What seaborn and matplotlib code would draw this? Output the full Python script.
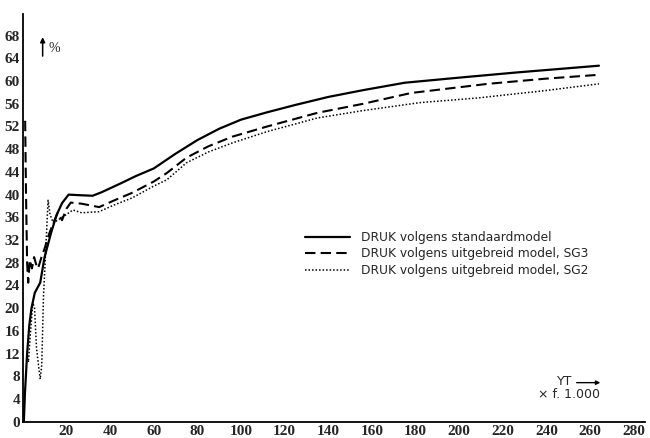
import numpy as np
import pandas as pd
import seaborn as sns
import matplotlib.pyplot as plt

# DRUK volgens standaardmodel
std_x = [0.5, 1, 2, 3, 4, 5.5, 8, 10, 13, 15.5, 18, 21, 26, 32, 36, 45, 52,
         60, 70, 80, 90, 100, 112, 125, 140, 156, 175, 200, 226, 245, 264]
std_y = [0, 5, 12, 17, 20, 22.7, 24.5, 29, 33.3, 36.4, 38.5, 40, 39.9, 39.8, 40.4, 42, 43.3,
         44.6, 47.2, 49.6, 51.6, 53.2, 54.5, 55.8, 57.2, 58.4, 59.7, 60.6, 61.5, 62.1, 62.7]

# DRUK volgens uitgebreid model, SG3
sg3_x = [1.1, 1.5, 2.0, 2.5, 3.2, 4.2, 5.2, 6.3, 7.0, 8.6, 10, 12, 14, 16, 18, 20, 22,
         27, 35, 42, 50, 60, 66, 75, 85, 96, 112, 135, 156, 178, 213, 239, 264]
sg3_y = [53, 40, 28, 24.5, 28.5, 27, 29, 27.5, 27, 29, 30.5, 33, 35, 36.8, 35.5, 37.5, 38.6,
         38.4, 37.8, 39, 40.3, 42.3, 43.8, 46.5, 48.5, 50.2, 52, 54.4, 56, 57.9, 59.5, 60.4, 61.1]

# DRUK volgens uitgebreid model, SG2
sg2_x = [1.8, 2.6, 3.4, 4.6, 5.4, 6.3, 7.2, 8.0, 8.7, 9.5, 10.5, 11.6, 12.5, 14, 16, 18, 20,
         23, 27, 35, 42, 50, 60, 66, 75, 85, 96, 112, 135, 156, 182, 208, 239, 264]
sg2_y = [12, 10.5, 15, 21, 20, 13, 10, 7.5, 10, 22, 30, 39, 36.5, 35, 35.5, 36, 36.5,
         37.3, 36.8, 37, 38.2, 39.4, 41.5, 42.6, 45.6, 47.5, 49.1, 51.1, 53.5, 54.8, 56.2, 57, 58.3, 59.5]

labels = ["DRUK volgens standaardmodel",
          "DRUK volgens uitgebreid model, SG3",
          "DRUK volgens uitgebreid model, SG2"]
y_ticks = list(range(0, 69, 4))
x_ticks = list(range(20, 281, 20))

sns.set_style("white")
plt.rcParams['font.family'] = ['DejaVu Sans']

fig = plt.figure(figsize=(6.5, 4.38), dpi=100)
ax = fig.add_axes([0.035, 0.037, 0.957, 0.931])

series = [(std_x, std_y, '-', 1.6), (sg3_x, sg3_y, (0, (5, 2.5)), 1.5), (sg2_x, sg2_y, (0, (1, 1.3)), 1.1)]
for (xs, ys, ls, lw), lab in zip(series, labels):
    df = pd.DataFrame({'x': xs, 'y': ys})
    sns.lineplot(data=df, x='x', y='y', ax=ax, color='black', linestyle=ls, lw=lw,
                 sort=False, estimator=None, label=lab)

ax.set_xlim(0, 285)
ax.set_ylim(0, 71.8)
ax.set_xticks(x_ticks)
ax.set_yticks(y_ticks)
ax.set_xlabel('')
ax.set_ylabel('')
tick_font = dict(family='Liberation Serif', weight='bold', size=11)
ax.set_xticklabels([str(t) for t in x_ticks], fontdict=tick_font)
ax.set_yticklabels([str(t) for t in y_ticks], fontdict=tick_font)
ax.tick_params(axis='both', length=0)
ax.tick_params(axis='y', pad=2)
ax.tick_params(axis='x', pad=2)
sns.despine(ax=ax)
for side in ['left', 'bottom']:
    ax.spines[side].set_color('black')
    ax.spines[side].set_linewidth(1.3)

ax.legend(loc='upper left', bbox_to_anchor=(0.453, 0.468), frameon=False, fontsize=8.8,
          handlelength=3.7, handletextpad=0.9, labelspacing=0.28, borderaxespad=0, borderpad=0)

# y-axis unit
ax.annotate('', xy=(0.032, 0.95), xytext=(0.032, 0.89), xycoords='axes fraction',
            arrowprops=dict(arrowstyle='-|>', color='black', lw=1.1, mutation_scale=7))
ax.text(0.05, 0.915, '%', transform=ax.transAxes, fontsize=10, family='Liberation Serif',
        ha='center', va='center')

# x-axis unit
ax.text(0.871, 0.1, 'YT', transform=ax.transAxes, fontsize=9, ha='center', va='center')
ax.annotate('', xy=(0.933, 0.096), xytext=(0.886, 0.096), xycoords='axes fraction',
            arrowprops=dict(arrowstyle='-|>', color='black', lw=1.0, mutation_scale=6))
ax.text(0.878, 0.066, '× f. 1.000', transform=ax.transAxes, fontsize=9, ha='center', va='center')

fig.savefig('out.png', dpi=100)
